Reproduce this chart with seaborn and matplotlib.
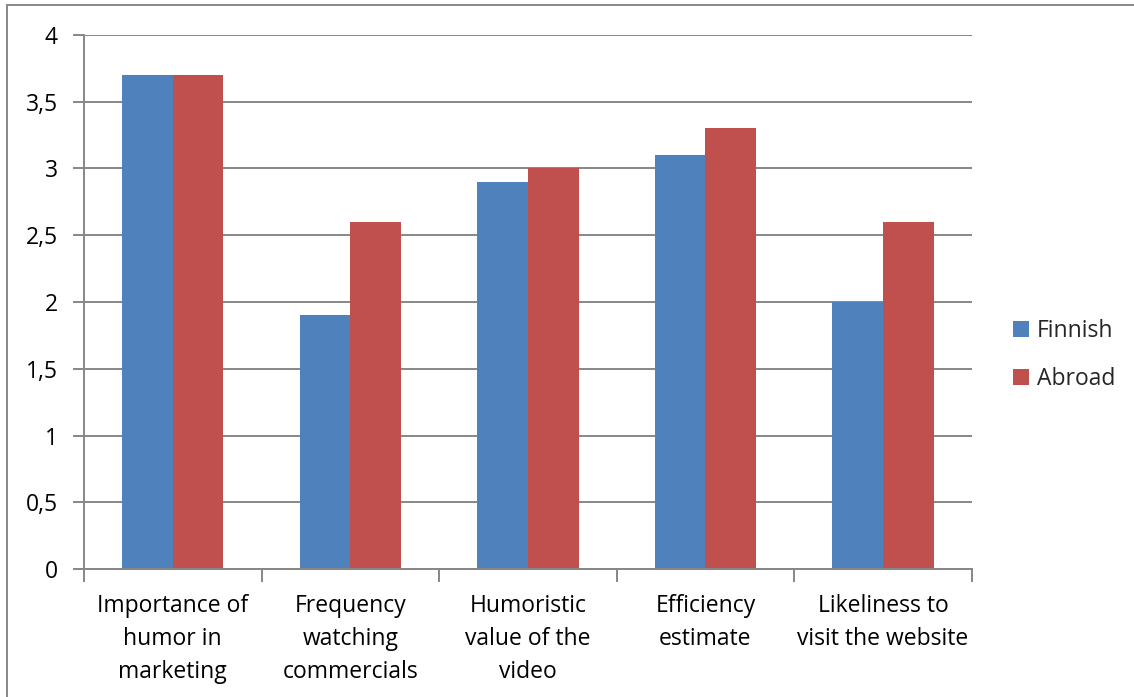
import matplotlib
matplotlib.use("Agg")
import matplotlib.pyplot as plt
from matplotlib.patches import Rectangle
from matplotlib.ticker import FuncFormatter, FixedLocator
import seaborn as sns
import pandas as pd

categories = [
    "Importance of\nhumor in\nmarketing",
    "Frequency\nwatching\ncommercials",
    "Humoristic\nvalue of the\nvideo",
    "Efficiency\nestimate",
    "Likeliness to\nvisit the website",
]
finnish = [3.7, 1.9, 2.9, 3.1, 2.0]
abroad = [3.7, 2.6, 3.0, 3.3, 2.6]
series_names = ["Finnish", "Abroad"]
colors = ["#4F81BD", "#C0504D"]
y_ticks = [0, 0.5, 1, 1.5, 2, 2.5, 3, 3.5, 4]

df = pd.DataFrame({
    "category": categories * 2,
    "value": finnish + abroad,
    "series": [series_names[0]] * len(categories) + [series_names[1]] * len(categories),
})

sns.set_theme(style="white")
plt.rcParams["font.family"] = ["Open Sans", "DejaVu Sans"]

FS = 16.5
grey = "#878787"
fig = plt.figure(figsize=(11.34, 6.97), dpi=100)
ax = fig.add_axes([0.0741, 0.1836, 0.7829, 0.7662])

sns.barplot(data=df, x="category", y="value", hue="series", order=categories,
            hue_order=series_names, palette=colors, width=0.57, saturation=1,
            edgecolor="none", linewidth=0, ax=ax)

ax.set_xlim(-0.5, len(categories) - 0.5)
ax.set_ylim(0, 4)
ax.set_yticks(y_ticks)
ax.yaxis.set_major_formatter(FuncFormatter(lambda v, p: f"{v:g}".replace(".", ",")))
ax.grid(axis="y", color=grey, linewidth=1.4)
ax.set_axisbelow(True)
ax.set_xlabel("")
ax.set_ylabel("")

for side in ["top", "right"]:
    ax.spines[side].set_visible(False)
for side in ["left", "bottom"]:
    ax.spines[side].set_color(grey)
    ax.spines[side].set_linewidth(1.4)

ax.tick_params(axis="y", which="major", direction="out", length=8, width=1.4,
               color=grey, labelsize=FS, pad=11, left=True, labelcolor="black")
ax.tick_params(axis="x", which="major", length=0, labelsize=FS, pad=18, labelcolor="black")
ax.xaxis.set_minor_locator(FixedLocator([i - 0.5 for i in range(len(categories) + 1)]))
ax.tick_params(axis="x", which="minor", direction="out", length=9, width=1.4,
               color=grey, bottom=True)
for lbl in ax.get_xticklabels():
    lbl.set_linespacing(1.5)

handles, labels = ax.get_legend_handles_labels()
ax.legend(handles, labels, loc="center left", bbox_to_anchor=(1.023, 0.40),
          frameon=False, fontsize=FS, handlelength=0.7, handleheight=0.7,
          handletextpad=0.35, labelspacing=1.05)

# outer chart frame
fig.patches.append(Rectangle((7 / 1134, -0.05), 1.2, 1.05 - 5 / 697,
                             transform=fig.transFigure, fill=False,
                             edgecolor=grey, linewidth=1.4))

fig.savefig("out.png", dpi=100, facecolor="white")
